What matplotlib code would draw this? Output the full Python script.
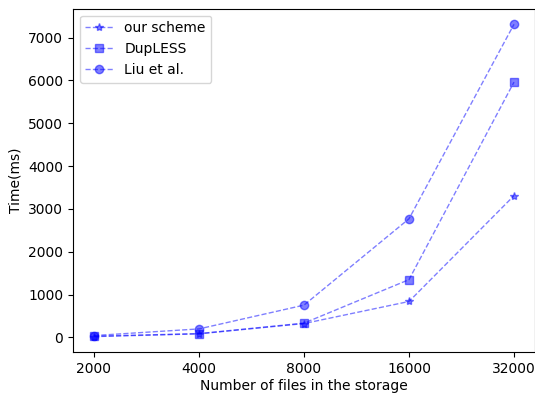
import matplotlib
matplotlib.use('Agg')
import matplotlib.pyplot as plt

# data
file_counts = ['2000', '4000', '8000', '16000', '32000']
our_scheme = [20, 85, 325, 840, 3310]
dupless = [30, 90, 335, 1350, 5960]
liu_et_al = [45, 200, 755, 2770, 7310]

fig = plt.figure(figsize=(5.35, 3.94), dpi=100)
ax = fig.add_axes([0.1364, 0.106, 0.8636, 0.872])

xs = range(len(file_counts))
ax.plot(xs, our_scheme, 'b*--', alpha=0.5, linewidth=1, label='our scheme')
ax.plot(xs, dupless, 'bs--', alpha=0.5, linewidth=1, label='DupLESS')
ax.plot(xs, liu_et_al, 'bo--', alpha=0.5, linewidth=1, label='Liu et al.')

ax.set_xticks(list(xs))
ax.set_xticklabels(file_counts)
ax.set_xlabel('Number of files in the storage', labelpad=2)
ax.set_ylabel('Time(ms)')
ax.legend(loc='upper left')

fig.savefig('out.png', dpi=100)
